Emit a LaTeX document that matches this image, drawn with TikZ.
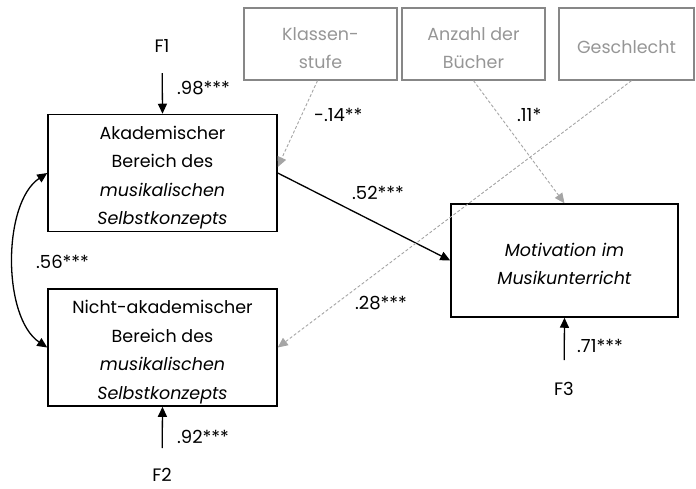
\documentclass[tikz,border=0pt]{standalone}
\usepackage{fontspec}
\setmainfont{Poppins}
\usetikzlibrary{arrows.meta}
\definecolor{boxgray}{RGB}{135,135,135}
\definecolor{txtgray}{RGB}{150,150,150}
\definecolor{dashgray}{RGB}{165,165,165}
% extra room above the first line of a box text
\newcommand\firstlinestrut[1]{\rule{0pt}{#1}}
\tikzset{
  mainbox/.style={draw=black, line width=1.5pt, align=center, inner sep=2pt,
    font=\fontsize{17.5}{28.5}\selectfont},
  covbox/.style={draw=boxgray, line width=1.3pt, align=center, inner sep=2pt,
    text=txtgray, minimum height=72pt, font=\fontsize{17.5}{28.5}\selectfont},
  lbl/.style={font=\fontsize{18}{20}\selectfont, inner sep=0pt},
  solidarr/.style={line width=1.3pt, -{Triangle[length=10pt,width=9pt]}},
  dasharr/.style={draw=dashgray, line width=0.9pt, dash pattern=on 3pt off 2pt,
    -{Triangle[length=10pt,width=9pt]}, color=dashgray},
}
\begin{document}
\begin{tikzpicture}[x=1pt,y=-1pt]
\useasboundingbox (0,0) rectangle (696,488);

% Latent constructs
\node[mainbox, minimum width=229pt, minimum height=112pt] (A) at (162.5,173)
  {\firstlinestrut{23pt}Akademischer\\Bereich des\\\textit{musikalischen}\\\textit{Selbstkonzepts}};
\node[mainbox, minimum width=229pt, minimum height=113pt] (N) at (162.5,347.5)
  {\firstlinestrut{23pt}Nicht-akademischer\\Bereich des\\\textit{musikalischen}\\\textit{Selbstkonzepts}};
\node[mainbox, minimum width=227pt, minimum height=113pt] (M) at (564.5,260.5)
  {\firstlinestrut{20pt}\textit{Motivation im}\\\textit{Musikunterricht}};

% Covariates
\node[covbox, minimum width=153pt] (K) at (320.5,44) {\firstlinestrut{21pt}Klassen-\\stufe};
\node[covbox, minimum width=143pt] (B) at (473.5,44) {\firstlinestrut{21pt}Anzahl der\\Bücher};
\node[covbox, minimum width=135pt] (G) at (626.5,44) {\firstlinestrut{20pt}Geschlecht};

% Residual terms
\node[lbl] (F1) at (162,45.5) {F1};
\node[lbl] (F2) at (162,475) {F2};
\node[lbl] (F3) at (564,389) {F3};

% Paths
\draw[solidarr, shorten <=21pt] (F1) -- (A.north);
\draw[solidarr, shorten <=20pt] (F2) -- (N.south);
\draw[solidarr, shorten <=22pt] (F3) -- (M.south);
\draw[solidarr] (A.east) -- (M.west);
\draw[line width=1.3pt, {Triangle[length=10pt,width=9pt]}-{Triangle[length=10pt,width=9pt]}]
  (A.west) .. controls +(-45,30) and +(-45,-30) .. (N.west);

\draw[dasharr] ([xshift=-3pt]K.south) -- ([yshift=6pt]A.east);
\draw[dasharr] (B.south) -- (M.north);
\draw[dasharr] ([xshift=5pt]G.south) -- (N.east);

% Coefficients
\node[lbl, anchor=west] at (177,88) {.98***};
\node[lbl, anchor=west] at (177,437) {.92***};
\node[lbl, anchor=west] at (577,346) {.71***};
\node[lbl, anchor=west] at (352,193) {.52***};
\node[lbl, anchor=west] at (36,262) {.56***};
\node[lbl, anchor=west] at (314,115) {-.14**};
\node[lbl, anchor=west] at (517,115) {.11*};
\node[lbl, anchor=west] at (355,303) {.28***};
\end{tikzpicture}
\end{document}
